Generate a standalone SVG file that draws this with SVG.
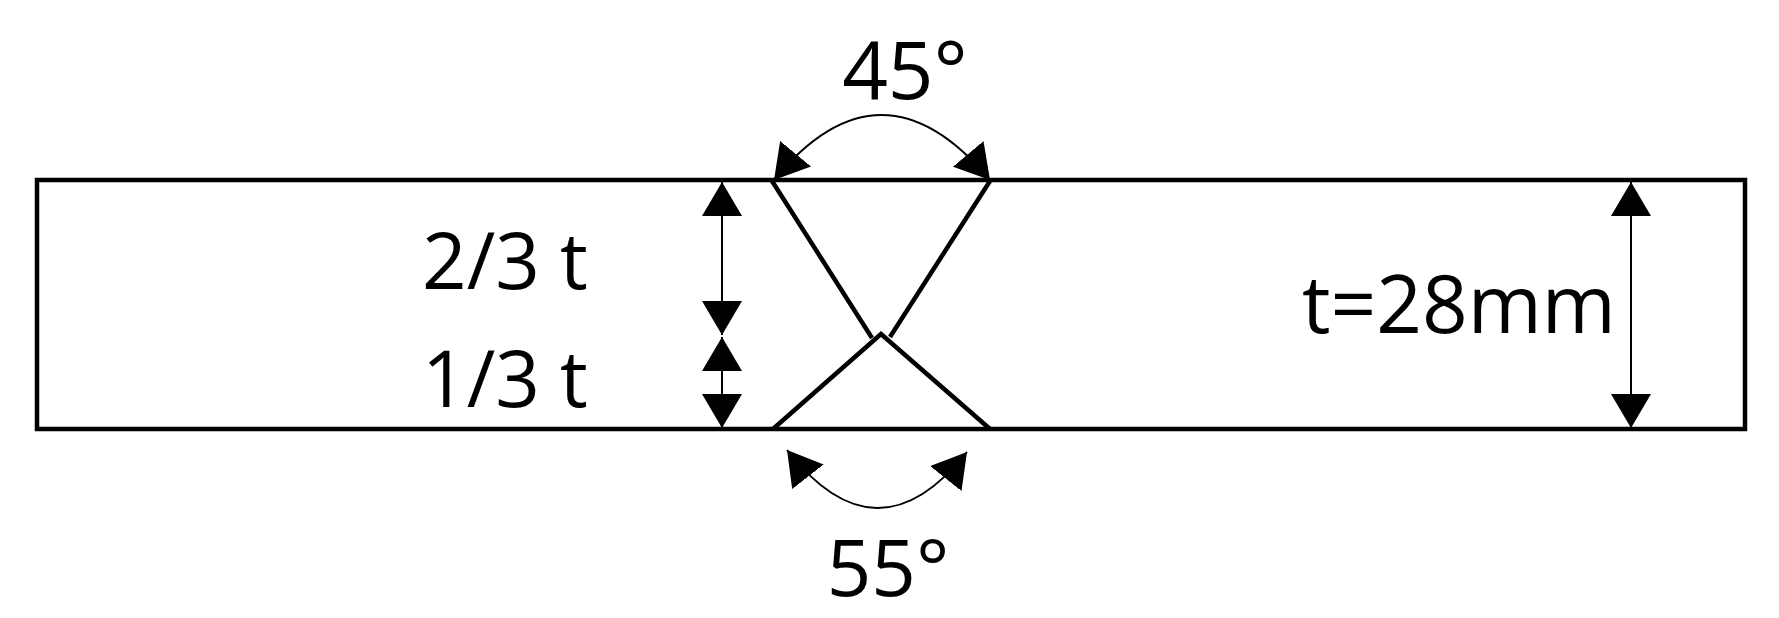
<svg xmlns="http://www.w3.org/2000/svg" width="1779" height="618" viewBox="0 0 1779 618">
<style>
.t{font-family:"Open Sans","DejaVu Sans",sans-serif;fill:#000}
.thick{stroke:#000;stroke-width:4.5;fill:none}
.dim{stroke:#000;stroke-width:2;fill:none}
</style>
<defs>
<marker id="ah" markerUnits="userSpaceOnUse" markerWidth="36" markerHeight="40" refX="34" refY="20" orient="auto-start-reverse" viewBox="0 0 36 40">
<path d="M0,0 L34,20 L0,40 Z" fill="#000"/>
</marker>
</defs>
<g id="plate">
<rect x="37" y="180" width="1708" height="249" class="thick"/>
</g>
<g id="weld">
<path class="thick" d="M772,181 L872,338 M990,181 L890,337 M773,429 L881,334 L990,429"/>
</g>
<g id="connectors">
<path class="dim" d="M722,182 L722,335" marker-start="url(#ah)" marker-end="url(#ah)"/>
<path class="dim" d="M722,337 L722,428" marker-start="url(#ah)" marker-end="url(#ah)"/>
<path class="dim" d="M1631,182 L1631,428" marker-start="url(#ah)" marker-end="url(#ah)"/>
<path class="dim" d="M774,180 Q881,50 990,180" marker-start="url(#ah)" marker-end="url(#ah)"/>
<path class="dim" d="M787,450 Q877,565 967,452" marker-start="url(#ah)" marker-end="url(#ah)"/>
</g>
<g id="labels">
<text class="t" x="905" y="99" font-size="80" text-anchor="middle">45°</text>
<text class="t" x="888" y="596" font-size="78" text-anchor="middle">55°</text>
<text class="t" x="505" y="289" font-size="78" text-anchor="middle">2/3 t</text>
<text class="t" x="505" y="407" font-size="78" text-anchor="middle">1/3 t</text>
<text class="t" x="1459" y="333" font-size="80" text-anchor="middle">t=28mm</text>
</g>
</svg>
